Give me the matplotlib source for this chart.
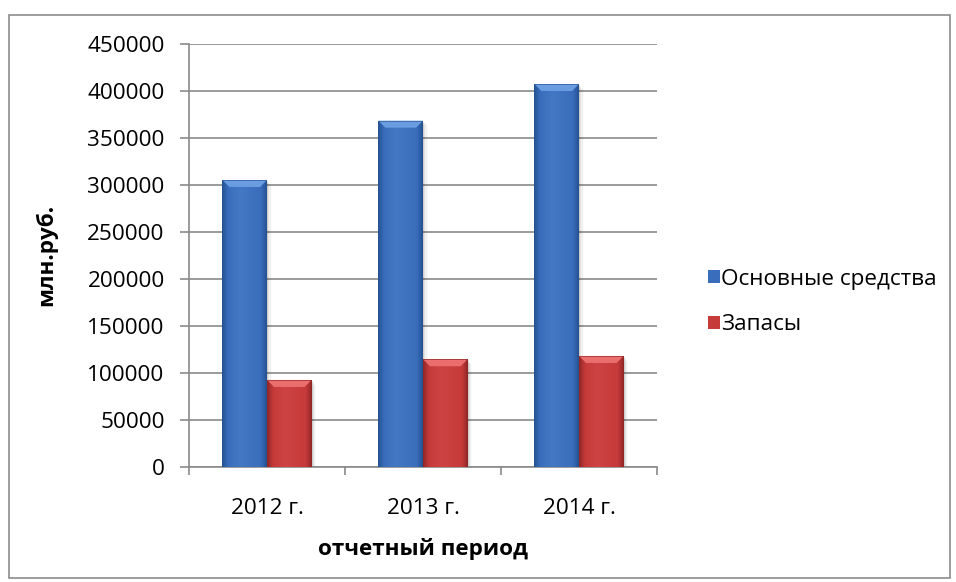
import numpy as np
import matplotlib
matplotlib.use("Agg")
import matplotlib.pyplot as plt
from matplotlib.patches import Rectangle, Polygon
from matplotlib.colors import LinearSegmentedColormap

plt.rcParams['font.family'] = ['Open Sans', 'DejaVu Sans']

# Data
categories = ["2012 г.", "2013 г.", "2014 г."]
series_names = ["Основные средства", "Запасы"]
fixed_assets = [305000, 368000, 407000]
inventories = [92500, 114500, 118000]
y_ticks = list(range(0, 450001, 50000))

W, H = 956, 582
fig = plt.figure(figsize=(W / 100, H / 100), dpi=100)
fig.patch.set_facecolor("white")

# Outer chart frame
fig.add_artist(Rectangle((9 / W, 1 - 578 / H), (950 - 9) / W, (578 - 15) / H,
                         transform=fig.transFigure, fill=False,
                         edgecolor="#8c8c8c", lw=1.2))

ax_l, ax_r, ax_t, ax_b = 189, 657, 43.5, 467
ax = fig.add_axes([ax_l / W, 1 - ax_b / H, (ax_r - ax_l) / W, (ax_b - ax_t) / H])
ax.set_xlim(-0.5, len(categories) - 0.5)
ax.set_ylim(0, 450000)

grid_c = "#8a8a8a"
for s in ["top", "right"]:
    ax.spines[s].set_visible(False)
for s in ["left", "bottom"]:
    ax.spines[s].set_color(grid_c)
    ax.spines[s].set_linewidth(1.2)

ax.set_yticks(y_ticks)
ax.set_yticklabels([str(v) for v in y_ticks])
ax.yaxis.grid(True, color=grid_c, lw=1.2)
ax.set_axisbelow(True)
ax.tick_params(axis="y", direction="out", length=6.5, width=1.2, color=grid_c,
               labelsize=16.2, pad=11)

# Category boundary ticks (major) and centred labels (minor)
ax.set_xticks(np.arange(-0.5, len(categories), 1.0))
ax.set_xticklabels([])
ax.set_xticks(np.arange(len(categories)), minor=True)
ax.set_xticklabels(categories, minor=True)
ax.tick_params(axis="x", which="major", direction="out", length=5.5, width=1.2, color=grid_c)
ax.tick_params(axis="x", which="minor", length=0, labelsize=16.2, pad=22)

ax.set_xlabel("отчетный период", fontsize=16.2, fontweight="bold", labelpad=14)
ax.set_ylabel("млн.руб.", fontsize=16.2, fontweight="bold", labelpad=22)

bw = 0.286
x = np.arange(len(categories))

palettes = {
    0: dict(dark="#2a5a9e", mid="#3a6ebc", light="#4378c4", top="#6a9de0", rim="#264f8c"),
    1: dict(dark="#a02c2c", mid="#c63a3a", light="#cd4343", top="#ea6e6e", rim="#8c2424"),
}

px_x = (len(categories)) / (ax_r - ax_l)       # data units per pixel in x
px_y = 450000 / (ax_b - ax_t)                  # data units per pixel in y


def style_bar(patch, pal, zorder):
    x0, y0 = patch.get_x(), patch.get_y()
    w, h = patch.get_width(), patch.get_height()
    # soft shadow to the lower right
    for i, a in enumerate([0.09, 0.06, 0.035, 0.02]):
        off = (i + 1) * 1.2
        sh = Rectangle((x0 + off * px_x, y0 - off * px_y), w, h,
                       facecolor="#000000", alpha=a, edgecolor="none", zorder=zorder - 1)
        ax.add_patch(sh)
    # subtle horizontal shading across the bar body
    cmap = LinearSegmentedColormap.from_list(
        "b", [(0, pal["rim"]), (0.04, pal["dark"]), (0.14, pal["mid"]), (0.4, pal["light"]),
              (0.86, pal["mid"]), (0.96, pal["dark"]), (1, pal["rim"])])
    grad = np.linspace(0, 1, 256).reshape(1, -1)
    im = ax.imshow(grad, cmap=cmap, extent=(x0, x0 + w, y0, y0 + h),
                   aspect="auto", zorder=zorder, interpolation="bicubic")
    im.set_clip_path(patch)
    # bevelled top edge
    bx, by = 7 * px_x, 7 * px_y
    top = y0 + h
    ax.add_patch(Polygon([(x0, top), (x0 + w, top), (x0 + w - bx, top - by), (x0 + bx, top - by)],
                         closed=True, facecolor=pal["top"], edgecolor="none", zorder=zorder + 1))
    ax.add_patch(Polygon([(x0, top), (x0 + w, top), (x0 + w, top - 1.2 * px_y), (x0, top - 1.2 * px_y)],
                         closed=True, facecolor=pal["rim"], alpha=0.6, edgecolor="none",
                         zorder=zorder + 2))


for si, vals in enumerate([fixed_assets, inventories]):
    offs = (si - 0.5) * bw
    bars = ax.bar(x + offs, vals, width=bw, color=palettes[si]["mid"],
                  edgecolor="none", zorder=3, label=series_names[si])
    for p in bars.patches:
        style_bar(p, palettes[si], 3)

ax.set_xlim(-0.5, len(categories) - 0.5)
ax.set_ylim(0, 450000)

handles, labels = ax.get_legend_handles_labels()
leg = fig.legend(handles, labels, loc="center left",
                 bbox_to_anchor=(699 / W, 1 - 302 / H), frameon=False,
                 fontsize=16.2, handlelength=0.55, handleheight=0.55,
                 handletextpad=0.2, labelspacing=1.1, borderaxespad=0)
for t in leg.get_texts():
    t.set_x(-4)

fig.savefig("out.png", dpi=100, facecolor="white")
